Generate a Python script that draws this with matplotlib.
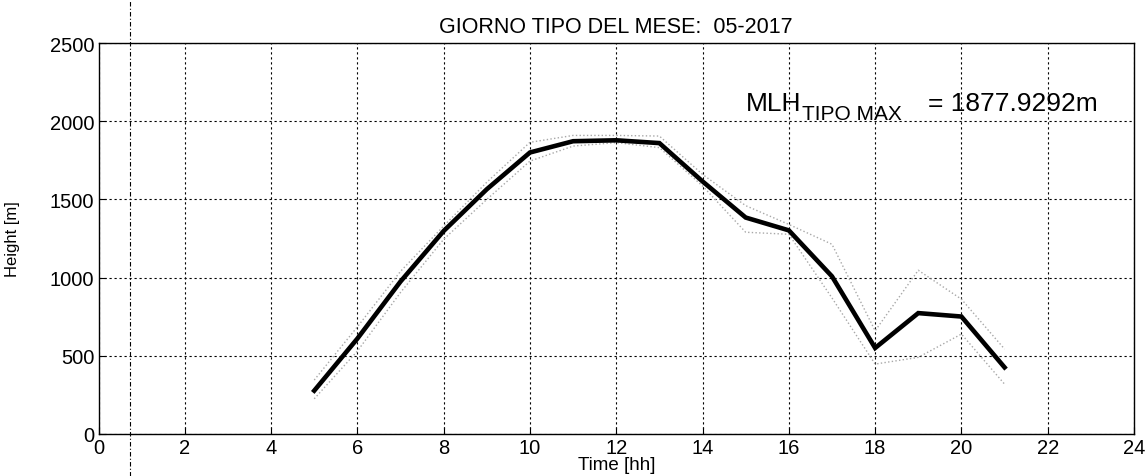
import matplotlib
matplotlib.use("Agg")
import matplotlib.pyplot as plt
from matplotlib.lines import Line2D

plt.rcParams['font.family'] = ['Liberation Sans', 'DejaVu Sans']

hours = [5, 6, 7, 8, 9, 10, 11, 12, 13, 14, 15, 16, 17, 18, 19, 20, 21]
mlh_mean = [277, 610, 975, 1298, 1565, 1800, 1872, 1877.93, 1860, 1615, 1384, 1302, 1008, 550, 773, 751, 426]
mlh_upper = [345, 685, 1040, 1330, 1610, 1865, 1909, 1909, 1905, 1660, 1460, 1340, 1213, 660, 1047, 862, 543]
mlh_lower = [225, 530, 905, 1245, 1500, 1745, 1841, 1863, 1831, 1586, 1290, 1277, 870, 447, 490, 639, 319]
x_ticks = list(range(0, 25, 2))
y_ticks = [0, 500, 1000, 1500, 2000, 2500]
title = "GIORNO TIPO DEL MESE:  05-2017"
max_value = 1877.9292

fig = plt.figure(figsize=(11.48, 4.77), dpi=100)
ax = fig.add_axes([98.5 / 1148, 1 - 435 / 477, (1134 - 98.5) / 1148, (435 - 44) / 477])

ax.plot(hours, mlh_upper, color='#a8a8a8', lw=1.0, ls=':')
ax.plot(hours, mlh_lower, color='#a8a8a8', lw=1.0, ls=':')
ax.plot(hours, mlh_mean, color='black', lw=3.3, solid_joinstyle='miter')

ax.set_xlim(0, 24)
ax.set_ylim(0, 2500)
ax.set_xticks(x_ticks)
ax.set_yticks(y_ticks)
ax.grid(True, color='black', ls=(0, (2, 2.5)), lw=0.8)
ax.tick_params(direction='in', length=5, labelsize=14.5, colors='black', pad=3)
for s in ax.spines.values():
    s.set_color('black')
    s.set_linewidth(1.0)

ax.set_title(title, fontsize=15.5, pad=8)
ax.set_xlabel("Time [hh]", fontsize=13.5, labelpad=-1)
ax.set_ylabel("Height [m]", fontsize=12)
ax.yaxis.set_label_coords(-0.076, 0.5)

# annotation: MLH with subscript TIPO MAX
anchor = (15, 2070)
ax.annotate("MLH", xy=anchor, xytext=(0, 0), textcoords='offset pixels',
            fontsize=19, va='baseline', ha='left')
ax.annotate("TIPO MAX", xy=anchor, xytext=(56, -9), textcoords='offset pixels',
            fontsize=15, va='baseline', ha='left')
ax.annotate("= %.4fm" % max_value, xy=anchor, xytext=(182, 0), textcoords='offset pixels',
            fontsize=19, va='baseline', ha='left')

# vertical dash-dot line (scan artefact)
fig.add_artist(Line2D([130 / 1148, 130 / 1148], [0, 1], transform=fig.transFigure,
                      color='black', lw=0.8, ls=(0, (4, 2, 1, 2))))

fig.savefig("out.png", dpi=100)
